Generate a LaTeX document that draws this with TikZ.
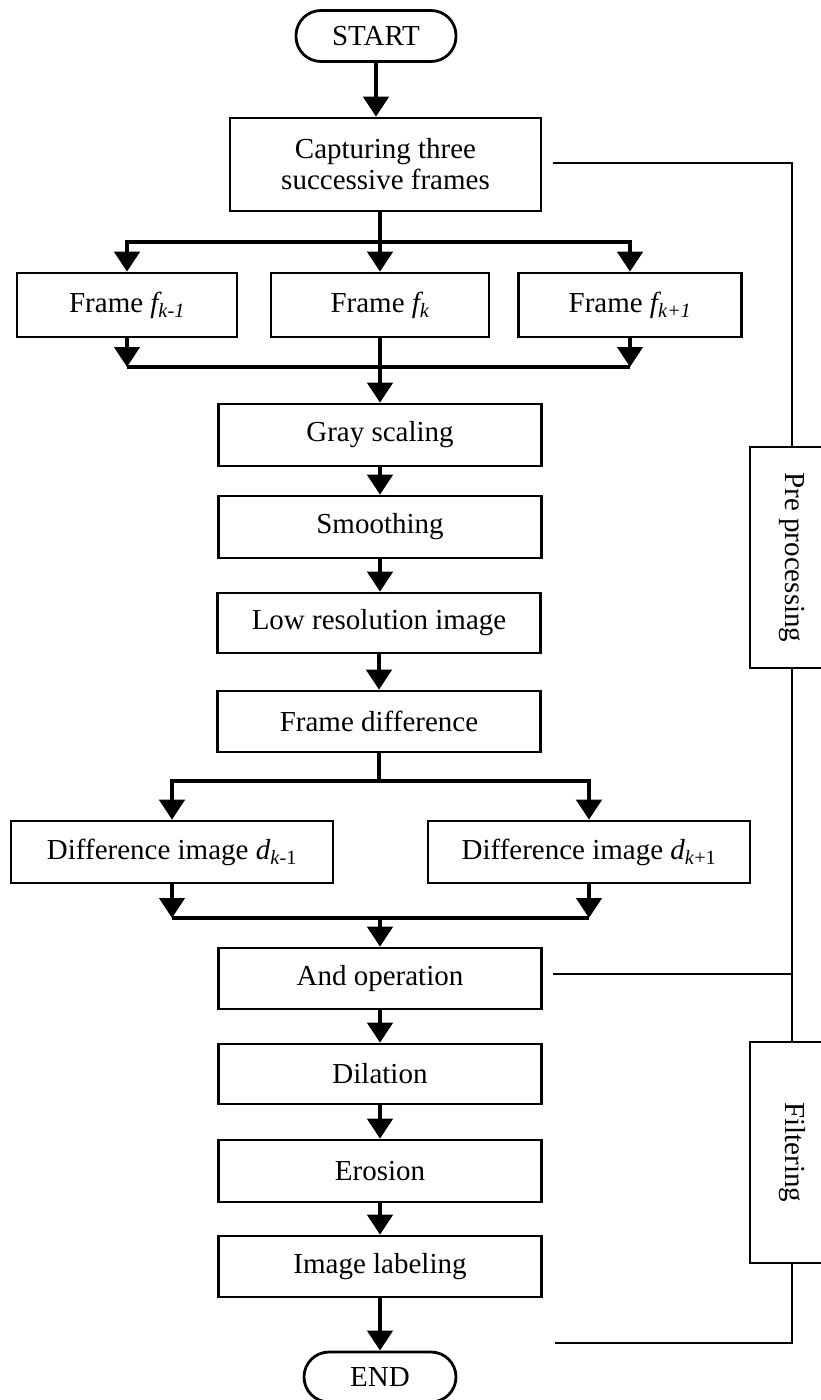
\documentclass[tikz,border=0pt]{standalone}
\usepackage{fontspec}
\setmainfont{Liberation Serif}
\usepackage{tikz}
\usetikzlibrary{arrows.meta}

\tikzset{
  stepbox/.style={draw, line width=2.6pt, minimum width=323pt, minimum height=62pt,
    inner sep=0pt, align=center, font=\fontsize{29}{31}\selectfont},
  pill/.style={draw, line width=2.8pt, rounded corners=25pt, minimum width=160pt,
    minimum height=51pt, inner sep=0pt, font=\fontsize{29}{31}\selectfont},
  sidebox/.style={draw, line width=1.8pt, minimum width=84pt, minimum height=221pt,
    inner sep=0pt, font=\fontsize{29}{31}\selectfont},
  flow/.style={line width=4.5pt, line join=miter, -{Triangle[width=25pt,length=20pt]}},
  bus/.style={line width=4.5pt, line join=miter},
  side/.style={line width=1.6pt, line join=miter}
}

\begin{document}
\begin{tikzpicture}[x=1pt,y=-1pt]
\useasboundingbox (0,0) rectangle (821,1400);

% main column
\node[pill] (start) at (376,36) {START};
\node[stepbox, minimum width=311pt, minimum height=93pt] (capture) at (385.5,164.5) {Capturing three\\successive frames};
\node[stepbox, minimum width=220pt, minimum height=64pt] (fkm) at (127,305) {Frame \textit{f\textsubscript{k-1}}};
\node[stepbox, minimum width=218pt, minimum height=64pt] (fk) at (380,305) {Frame \textit{f\textsubscript{k}}};
\node[stepbox, minimum width=223pt, minimum height=64pt] (fkp) at (630,305) {Frame \textit{f\textsubscript{k+1}}};
\node[stepbox] (gray) at (380,435) {Gray scaling};
\node[stepbox] (smooth) at (380,527) {Smoothing};
\node[stepbox, minimum height=60pt] (lowres) at (379,623) {Low resolution image};
\node[stepbox, minimum height=61pt] (fdiff) at (379,721.5) {Frame difference};
\node[stepbox, minimum width=322pt] (dkm) at (172,852) {Difference image \textit{d}\textsubscript{\textit{k}-1}};
\node[stepbox, minimum width=322pt] (dkp) at (589,852) {Difference image \textit{d}\textsubscript{\textit{k}+1}};
\node[stepbox, minimum height=61pt] (andop) at (380,978.5) {And operation};
\node[stepbox, minimum height=60pt] (dil) at (380,1074) {Dilation};
\node[stepbox] (ero) at (380,1171) {Erosion};
\node[stepbox, minimum height=61pt] (lab) at (380,1266.5) {Image labeling};
\node[pill, minimum width=152pt, minimum height=50pt] (end) at (380,1377) {END};

% split and join points
\coordinate (split1) at (380,242);
\coordinate (join1) at (380,367);
\coordinate (split2) at (380,781);
\coordinate (join2) at (380,918);

\draw[flow] (start) -- (start |- capture.north);
\draw[flow] (fk |- capture.south) -- (fk);
\draw[bus] (split1 -| fkm) -- (split1 -| fkp);
\draw[flow] (split1) -| (fkm);
\draw[flow] (split1) -| (fkp);
\draw[flow] (fkm) -- (fkm |- join1);
\draw[flow] (fkp) -- (fkp |- join1);
\draw[bus] (fkm |- join1) -- (fkp |- join1);
\draw[flow] (fk) -- (gray);
\draw[flow] (gray) -- (smooth);
\draw[flow] (smooth) -- (smooth |- lowres.north);
\draw[flow] (lowres) -- (lowres |- fdiff.north);
\draw[bus] (fdiff) -- (fdiff |- split2);
\draw[bus] (split2 -| dkm) -- (split2 -| dkp);
\draw[flow] (fdiff |- split2) -| (dkm);
\draw[flow] (fdiff |- split2) -| (dkp);
\draw[flow] (dkm) -- (dkm |- join2);
\draw[flow] (dkp) -- (dkp |- join2);
\draw[bus] (dkm |- join2) -- (dkp |- join2);
\draw[flow] (join2) -- (andop);
\draw[flow] (andop) -- (dil);
\draw[flow] (dil) -- (ero);
\draw[flow] (ero) -- (lab);
\draw[flow] (lab) -- (end);

% side brackets
\node[sidebox] (pre) at (792,557.5) {\rotatebox{-90}{Pre processing}};
\node[sidebox] (filt) at (792,1152.5) {\rotatebox{-90}{Filtering}};
\coordinate (c1) at (553,163);
\coordinate (c2) at (553,974);
\coordinate (c3) at (555,1343);
\draw[side] (c1) -| (pre);
\draw[side] (pre) -- (filt);
\draw[side] (c2) -- (c2 -| pre);
\draw[side] (filt) |- (c3);
\end{tikzpicture}
\end{document}
